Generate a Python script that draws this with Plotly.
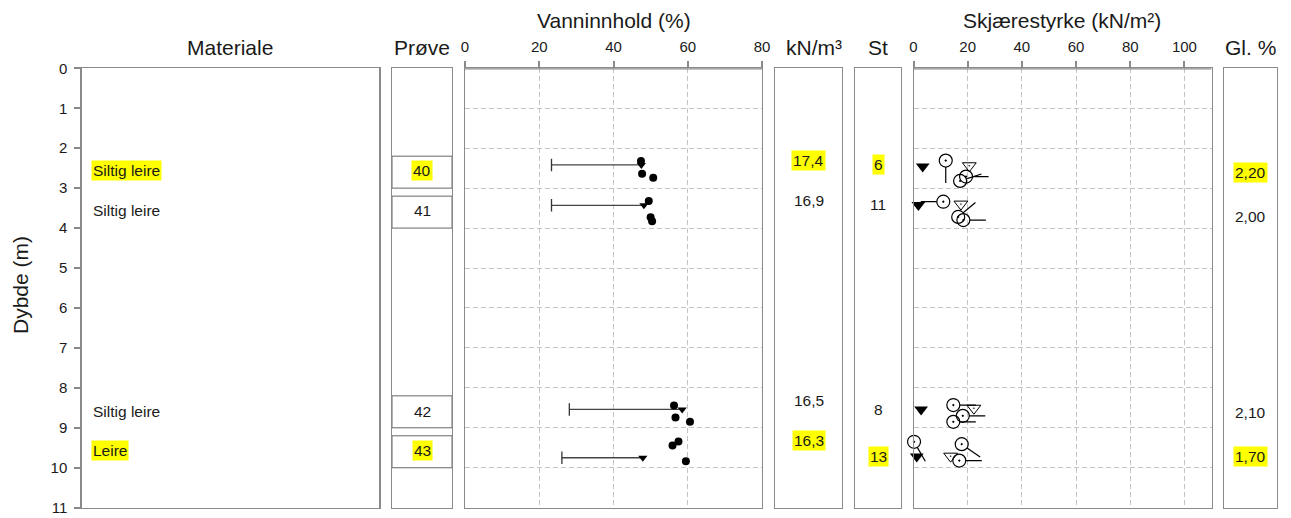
import math
import plotly.graph_objects as go

W, H = 1291, 518

# ---------------- data ----------------
depth_ticks = list(range(0, 12))

material_labels = ["Siltig leire", "Siltig leire", "Siltig leire", "Leire"]
material_depth = [2.56, 3.56, 8.58, 9.57]
material_hl = [True, False, False, True]

sample_ids = ["40", "41", "42", "43"]
sample_top = [2.2, 3.2, 8.2, 9.2]
sample_bottom = [3.0, 4.0, 9.0, 10.0]
sample_label_depth = [2.56, 3.56, 8.58, 9.57]
sample_hl = [True, False, False, True]

# water content (%)
w_depth = [2.32, 2.64, 2.74, 3.32, 3.73, 3.83, 8.44, 8.74, 8.85, 9.34, 9.44, 9.84]
w_value = [47.4, 47.7, 50.7, 49.5, 50.0, 50.4, 56.3, 56.7, 60.6, 57.5, 55.9, 59.5]
lim_depth = [2.42, 3.43, 8.54, 9.75]
plastic_limit = [23.3, 23.3, 28.1, 26.1]
liquid_limit = [47.5, 48.2, 58.5, 47.9]
w_ticks = [0, 20, 40, 60, 80]

unit_weight = ["17,4", "16,9", "16,5", "16,3"]
unit_weight_depth = [2.32, 3.31, 8.32, 9.32]
unit_weight_hl = [True, False, False, True]

sens = ["6", "11", "8", "13"]
sens_depth = [2.40, 3.42, 8.53, 9.71]
sens_hl = [True, False, False, True]

ignition = ["2,20", "2,00", "2,10", "1,70"]
ignition_depth = [2.61, 3.71, 8.62, 9.71]
ignition_hl = [True, False, False, True]

# shear strength (kN/m2)
su_ticks = [0, 20, 40, 60, 80, 100]
cone_r_su = [3.4, 1.8, 2.8, 1.2]
cone_r_depth = [2.46, 3.42, 8.54, 9.72]
cone_u_su = [20.6, 17.5, 22.3, 13.7]
cone_u_depth = [2.44, 3.40, 8.51, 9.71]
uc_su = [11.9, 17.2, 19.4, 11.0, 16.5, 18.4, 14.7, 18.2, 14.7, 0.2, 17.8, 16.9]
uc_depth = [2.31, 2.82, 2.71, 3.34, 3.72, 3.80, 8.43, 8.70, 8.85, 9.35, 9.41, 9.82]
uc_tail_angle = [-90, 18, 0, 180, 40, 0, 0, 0, 0, -60, -35, 0]

# ---------------- layout geometry ----------------
FONT = "Liberation Sans, Arial, sans-serif"
GRAY = "#8a8a8a"
GRID = "#c4c4c4"
TXT = "#1a1a1a"
HL = "#ffff00"
DSIZE = 15.5

panels = [(82, 379), (392, 452), (465, 762), (775, 842), (855, 901), (913.5, 1211.5), (1224, 1276.5)]
y_top_px, y_bot_px = 68.3, 507.7
ydom = [1 - y_bot_px / H, 1 - y_top_px / H]
DEPTH_MAX = 11
SU_MAX = 110

fig = go.Figure()

layout_axes = {}
for i, (a, b) in enumerate(panels, start=1):
    xn = "xaxis" if i == 1 else f"xaxis{i}"
    yn = "yaxis" if i == 1 else f"yaxis{i}"
    xr = "x" if i == 1 else f"x{i}"
    yr = "y" if i == 1 else f"y{i}"
    layout_axes[xn] = dict(domain=[a / W, b / W], anchor=yr, range=[0, 1], showgrid=False,
                           zeroline=False, showticklabels=False, ticks="", showline=True,
                           mirror=True, linecolor=GRAY, linewidth=1, fixedrange=True,
                           automargin=False)
    layout_axes[yn] = dict(domain=ydom, anchor=xr, range=[DEPTH_MAX, 0], showgrid=False,
                           zeroline=False, showticklabels=False, ticks="", showline=True,
                           mirror=True, linecolor=GRAY, linewidth=1, fixedrange=True,
                           automargin=False)
    fig.add_trace(go.Scatter(x=[None], y=[None], xaxis=xr, yaxis=yr, showlegend=False,
                             hoverinfo="skip"))

layout_axes["yaxis"].update(showticklabels=True, tickvals=depth_ticks, ticks="outside",
                            ticklen=6, tickwidth=1.5, tickcolor=GRAY, linewidth=1.5,
                            tickfont=dict(size=15, color=TXT, family=FONT),
                            ticklabelstandoff=4)

layout_axes["xaxis3"].update(range=[0, 80], side="top", tickvals=w_ticks, showticklabels=True,
                             ticks="outside", ticklen=6, tickwidth=1.5, tickcolor=GRAY,
                             showgrid=True, gridcolor=GRID, griddash="5px,3px", gridwidth=1,
                             tickfont=dict(size=15, color=TXT, family=FONT), ticklabelstandoff=3)
layout_axes["yaxis3"].update(showgrid=True, gridcolor=GRID, griddash="5px,3px", gridwidth=1,
                             tickvals=depth_ticks)

layout_axes["xaxis6"].update(range=[0, SU_MAX], side="top", tickvals=su_ticks, showticklabels=True,
                             ticks="outside", ticklen=6, tickwidth=1.5, tickcolor=GRAY,
                             showgrid=True, gridcolor=GRID, griddash="5px,3px", gridwidth=1,
                             tickfont=dict(size=15, color=TXT, family=FONT), ticklabelstandoff=3)
layout_axes["yaxis6"].update(showgrid=True, gridcolor=GRID, griddash="5px,3px", gridwidth=1,
                             tickvals=depth_ticks)

# ---------------- traces ----------------
# Atterberg limits: plastic limit (cap) to liquid limit (triangle)
lx, ly = [], []
for wp, wl, d in zip(plastic_limit, liquid_limit, lim_depth):
    lx += [wp, wl, None]
    ly += [d, d, None]
fig.add_trace(go.Scatter(x=lx, y=ly, xaxis="x3", yaxis="y3", mode="lines",
                         line=dict(color="#444444", width=1.3),
                         showlegend=False, hoverinfo="skip"))
fig.add_trace(go.Scatter(x=plastic_limit, y=lim_depth, xaxis="x3", yaxis="y3", mode="markers",
                         marker=dict(symbol="line-ns", size=9,
                                     line=dict(color="#333333", width=1.3)),
                         showlegend=False, hoverinfo="skip"))
fig.add_trace(go.Scatter(x=liquid_limit, y=lim_depth, xaxis="x3", yaxis="y3", mode="markers",
                         marker=dict(symbol="triangle-down", size=8, color="#000000",
                                     line=dict(width=0)),
                         showlegend=False))
fig.add_trace(go.Scatter(x=w_value, y=w_depth, xaxis="x3", yaxis="y3", mode="markers",
                         marker=dict(symbol="circle", size=8, color="#000000"),
                         showlegend=False))

# shear strength
fig.add_trace(go.Scatter(x=cone_r_su, y=cone_r_depth, xaxis="x6", yaxis="y6", mode="markers",
                         marker=dict(symbol="triangle-down", size=12, color="#000000",
                                     line=dict(width=0)),
                         showlegend=False, cliponaxis=False))
fig.add_trace(go.Scatter(x=cone_u_su, y=cone_u_depth, xaxis="x6", yaxis="y6", mode="markers",
                         marker=dict(symbol="triangle-down-open-dot", size=12, color="#000000",
                                     line=dict(width=1)),
                         showlegend=False))
plot_w_px = panels[5][1] - panels[5][0]
px_per_su = plot_w_px / SU_MAX
px_per_m = (y_bot_px - y_top_px) / DEPTH_MAX
r_px, tail_px = 6.5, 16
tx, ty = [], []
for su, d, ang in zip(uc_su, uc_depth, uc_tail_angle):
    c, s = math.cos(math.radians(ang)), math.sin(math.radians(ang))
    tx += [su + r_px * c / px_per_su, su + (r_px + tail_px) * c / px_per_su, None]
    ty += [d - r_px * s / px_per_m, d - (r_px + tail_px) * s / px_per_m, None]
fig.add_trace(go.Scatter(x=tx, y=ty, xaxis="x6", yaxis="y6", mode="lines",
                         line=dict(color="#000000", width=1.2), showlegend=False,
                         hoverinfo="skip", cliponaxis=False))
fig.add_trace(go.Scatter(x=uc_su, y=uc_depth, xaxis="x6", yaxis="y6", mode="markers",
                         marker=dict(symbol="circle-open-dot", size=13, color="#000000",
                                     line=dict(width=1.2)),
                         showlegend=False, cliponaxis=False))

# ---------------- shapes ----------------
shapes = []
for t, btm in zip(sample_top, sample_bottom):
    shapes.append(dict(type="rect", xref="x2", yref="y2", x0=0, x1=1, y0=t, y1=btm,
                       line=dict(color="#666666", width=1)))
for xr, yr, xmax in [("x3", "y3", 80), ("x6", "y6", SU_MAX)]:
    shapes.append(dict(type="line", xref=xr, yref=yr, x0=0, x1=xmax, y0=0, y1=0,
                       line=dict(color=GRAY, width=2.5)))

# ---------------- annotations ----------------
ann = []


def txt(x, y, s, xref, yref, size=DSIZE, hl=False, xanchor="center", yanchor="middle", angle=0):
    ann.append(dict(x=x, y=y, xref=xref, yref=yref, text=s, showarrow=False,
                    xanchor=xanchor, yanchor=yanchor, textangle=angle,
                    font=dict(size=size, color=TXT, family=FONT),
                    bgcolor=HL if hl else "rgba(0,0,0,0)", borderpad=1))


txt(230 / W, 1 - 47 / H, "Materiale", "paper", "paper", size=21)
txt(422 / W, 1 - 47 / H, "Prøve", "paper", "paper", size=21)
txt(614 / W, 1 - 20 / H, "Vanninnhold (%)", "paper", "paper", size=21)
txt(814 / W, 1 - 47 / H, "kN/m³", "paper", "paper", size=21)
txt(878 / W, 1 - 47 / H, "St", "paper", "paper", size=21)
txt(1062 / W, 1 - 20 / H, "Skjærestyrke (kN/m²)", "paper", "paper", size=21)
txt(1250 / W, 1 - 47 / H, "Gl. %", "paper", "paper", size=21)
txt(20 / W, 1 - 285 / H, "Dybde (m)", "paper", "paper", size=21, angle=-90)

for s, d, h in zip(material_labels, material_depth, material_hl):
    txt(0.03, d, s, "x", "y", hl=h, xanchor="left")
for s, d, h in zip(sample_ids, sample_label_depth, sample_hl):
    txt(0.5, d, s, "x2", "y2", hl=h)
for s, d, h in zip(unit_weight, unit_weight_depth, unit_weight_hl):
    txt(0.5, d, s, "x4", "y4", hl=h)
for s, d, h in zip(sens, sens_depth, sens_hl):
    txt(0.5, d, s, "x5", "y5", hl=h)
for s, d, h in zip(ignition, ignition_depth, ignition_hl):
    txt(0.5, d, s, "x7", "y7", hl=h)

fig.update_layout(width=W, height=H, autosize=False,
                  margin=dict(l=0, r=0, t=0, b=0, autoexpand=False),
                  paper_bgcolor="white", plot_bgcolor="white", showlegend=False,
                  font=dict(family=FONT, color=TXT), shapes=shapes, annotations=ann,
                  **layout_axes)

fig.write_html("out.html", config={"responsive": False},
               post_script="document.body.style.margin='0';document.body.style.overflow='hidden';")
